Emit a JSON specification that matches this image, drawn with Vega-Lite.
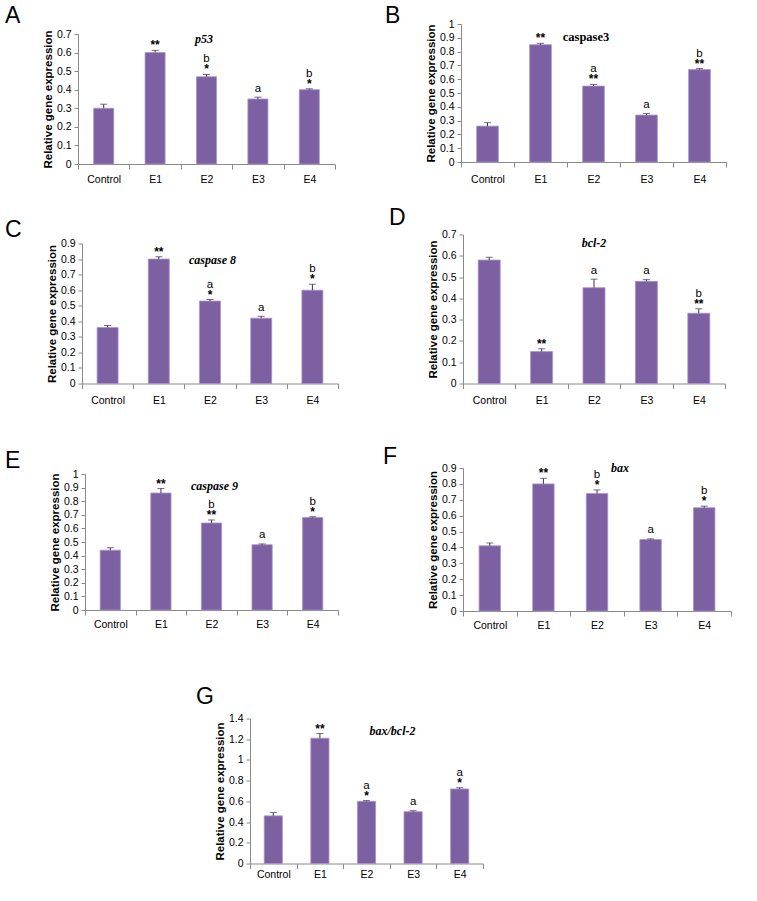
{
  "$schema": "https://vega.github.io/schema/vega-lite/v6.json",
  "background": "white",
  "padding": 5,
  "datasets": {
    "bars": [
      {"panel": "A", "gene": "p53", "group": "Control", "value": 0.30, "hi": 0.322, "sig": "", "let": ""},
      {"panel": "A", "gene": "p53", "group": "E1", "value": 0.60, "hi": 0.612, "sig": "**", "let": ""},
      {"panel": "A", "gene": "p53", "group": "E2", "value": 0.47, "hi": 0.482, "sig": "*", "let": "b"},
      {"panel": "A", "gene": "p53", "group": "E3", "value": 0.35, "hi": 0.36, "sig": "", "let": "a"},
      {"panel": "A", "gene": "p53", "group": "E4", "value": 0.40, "hi": 0.405, "sig": "*", "let": "b"},
      {"panel": "B", "gene": "caspase3", "group": "Control", "value": 0.26, "hi": 0.285, "sig": "", "let": ""},
      {"panel": "B", "gene": "caspase3", "group": "E1", "value": 0.85, "hi": 0.86, "sig": "**", "let": ""},
      {"panel": "B", "gene": "caspase3", "group": "E2", "value": 0.55, "hi": 0.562, "sig": "**", "let": "a"},
      {"panel": "B", "gene": "caspase3", "group": "E3", "value": 0.34, "hi": 0.352, "sig": "", "let": "a"},
      {"panel": "B", "gene": "caspase3", "group": "E4", "value": 0.67, "hi": 0.677, "sig": "**", "let": "b"},
      {"panel": "C", "gene": "caspase 8", "group": "Control", "value": 0.36, "hi": 0.373, "sig": "", "let": ""},
      {"panel": "C", "gene": "caspase 8", "group": "E1", "value": 0.80, "hi": 0.815, "sig": "**", "let": ""},
      {"panel": "C", "gene": "caspase 8", "group": "E2", "value": 0.53, "hi": 0.54, "sig": "*", "let": "a"},
      {"panel": "C", "gene": "caspase 8", "group": "E3", "value": 0.42, "hi": 0.432, "sig": "", "let": "a"},
      {"panel": "C", "gene": "caspase 8", "group": "E4", "value": 0.60, "hi": 0.638, "sig": "*", "let": "b"},
      {"panel": "D", "gene": "bcl-2", "group": "Control", "value": 0.58, "hi": 0.593, "sig": "", "let": ""},
      {"panel": "D", "gene": "bcl-2", "group": "E1", "value": 0.15, "hi": 0.163, "sig": "**", "let": ""},
      {"panel": "D", "gene": "bcl-2", "group": "E2", "value": 0.45, "hi": 0.49, "sig": "", "let": "a"},
      {"panel": "D", "gene": "bcl-2", "group": "E3", "value": 0.48, "hi": 0.488, "sig": "", "let": "a"},
      {"panel": "D", "gene": "bcl-2", "group": "E4", "value": 0.33, "hi": 0.351, "sig": "**", "let": "b"},
      {"panel": "E", "gene": "caspase 9", "group": "Control", "value": 0.44, "hi": 0.458, "sig": "", "let": ""},
      {"panel": "E", "gene": "caspase 9", "group": "E1", "value": 0.86, "hi": 0.893, "sig": "**", "let": ""},
      {"panel": "E", "gene": "caspase 9", "group": "E2", "value": 0.64, "hi": 0.662, "sig": "**", "let": "b"},
      {"panel": "E", "gene": "caspase 9", "group": "E3", "value": 0.48, "hi": 0.486, "sig": "", "let": "a"},
      {"panel": "E", "gene": "caspase 9", "group": "E4", "value": 0.68, "hi": 0.686, "sig": "*", "let": "b"},
      {"panel": "F", "gene": "bax", "group": "Control", "value": 0.41, "hi": 0.428, "sig": "", "let": ""},
      {"panel": "F", "gene": "bax", "group": "E1", "value": 0.80, "hi": 0.835, "sig": "**", "let": ""},
      {"panel": "F", "gene": "bax", "group": "E2", "value": 0.74, "hi": 0.762, "sig": "*", "let": "b"},
      {"panel": "F", "gene": "bax", "group": "E3", "value": 0.45, "hi": 0.454, "sig": "", "let": "a"},
      {"panel": "F", "gene": "bax", "group": "E4", "value": 0.65, "hi": 0.66, "sig": "*", "let": "b"},
      {"panel": "G", "gene": "bax/bcl-2", "group": "Control", "value": 0.46, "hi": 0.492, "sig": "", "let": ""},
      {"panel": "G", "gene": "bax/bcl-2", "group": "E1", "value": 1.21, "hi": 1.255, "sig": "**", "let": ""},
      {"panel": "G", "gene": "bax/bcl-2", "group": "E2", "value": 0.60, "hi": 0.607, "sig": "*", "let": "a"},
      {"panel": "G", "gene": "bax/bcl-2", "group": "E3", "value": 0.50, "hi": 0.51, "sig": "", "let": "a"},
      {"panel": "G", "gene": "bax/bcl-2", "group": "E4", "value": 0.72, "hi": 0.732, "sig": "*", "let": "a"}
    ]
  },
  "vconcat": [
    {
      "hconcat": [
        {
          "width": 257, "height": 159,
          "title": {"text": "A", "offset": -23, "dx": -73},
          "data": {"name": "bars"},
          "transform": [{"filter": "datum.panel == 'A'"}],
          "encoding": {"x": {"field": "group", "type": "nominal", "sort": null, "title": null, "scale": {"paddingInner": 0, "paddingOuter": 0, "range": [0, 257]}, "axis": {"labelPadding": 5}}},
          "layer": [
            {"mark": {"type": "bar", "width": {"band": 0.39}, "fill": "#7D60A2", "stroke": "#A796C4", "strokeWidth": 0.8},
             "encoding": {"y": {"field": "value", "type": "quantitative", "title": "Relative gene expression", "scale": {"domain": [0, 0.7], "nice": false, "range": [159, 29]}, "axis": {"values": [0, 0.1, 0.2, 0.3, 0.4, 0.5, 0.6, 0.7], "format": "~g", "labelOverlap": false, "offset": 0}}}},
            {"mark": {"type": "rule", "color": "#3d3050", "strokeWidth": 1}, "encoding": {"y": {"field": "value", "type": "quantitative", "title": "Relative gene expression", "axis": {"values": [0, 0.1, 0.2, 0.3, 0.4, 0.5, 0.6, 0.7], "format": "~g", "labelOverlap": false, "offset": 0}}, "y2": {"field": "hi"}}},
            {"mark": {"type": "tick", "color": "#3d3050", "thickness": 1, "size": 7}, "encoding": {"y": {"field": "hi", "type": "quantitative", "title": "Relative gene expression", "axis": {"values": [0, 0.1, 0.2, 0.3, 0.4, 0.5, 0.6, 0.7], "format": "~g", "labelOverlap": false, "offset": 0}}}},
            {"mark": {"type": "text", "baseline": "bottom", "dy": 2, "fontSize": 12, "fontWeight": "bold"}, "encoding": {"y": {"field": "hi", "type": "quantitative", "title": "Relative gene expression", "axis": {"values": [0, 0.1, 0.2, 0.3, 0.4, 0.5, 0.6, 0.7], "format": "~g", "labelOverlap": false, "offset": 0}}, "text": {"field": "sig"}}},
            {"transform": [{"filter": "datum.sig != ''"}], "mark": {"type": "text", "baseline": "bottom", "dy": -10, "fontSize": 11.5}, "encoding": {"y": {"field": "hi", "type": "quantitative", "title": "Relative gene expression", "axis": {"values": [0, 0.1, 0.2, 0.3, 0.4, 0.5, 0.6, 0.7], "format": "~g", "labelOverlap": false, "offset": 0}}, "text": {"field": "let"}}},
            {"transform": [{"filter": "datum.sig == ''"}], "mark": {"type": "text", "baseline": "bottom", "dy": -3.5, "fontSize": 11.5}, "encoding": {"y": {"field": "hi", "type": "quantitative", "title": "Relative gene expression", "axis": {"values": [0, 0.1, 0.2, 0.3, 0.4, 0.5, 0.6, 0.7], "format": "~g", "labelOverlap": false, "offset": 0}}, "text": {"field": "let"}}},
            {"transform": [{"filter": "datum.group == 'E2'"}], "mark": {"type": "text", "baseline": "middle", "font": "Liberation Serif", "fontStyle": "italic", "fontWeight": "bold", "fontSize": 12, "dx": -2.5}, "encoding": {"y": {"datum": 0.673, "type": "quantitative", "title": "Relative gene expression", "axis": {"values": [0, 0.1, 0.2, 0.3, 0.4, 0.5, 0.6, 0.7], "format": "~g", "labelOverlap": false, "offset": 0}}, "text": {"field": "gene"}}}
          ]
        },
        {
          "width": 265, "height": 157,
          "title": {"text": "B", "offset": -23, "dx": -76},
          "data": {"name": "bars"},
          "transform": [{"filter": "datum.panel == 'B'"}],
          "encoding": {"x": {"field": "group", "type": "nominal", "sort": null, "title": null, "scale": {"paddingInner": 0, "paddingOuter": 0, "range": [0, 265]}, "axis": {"labelPadding": 7}}},
          "layer": [
            {"mark": {"type": "bar", "width": {"band": 0.41}, "fill": "#7D60A2", "stroke": "#A796C4", "strokeWidth": 0.8},
             "encoding": {"y": {"field": "value", "type": "quantitative", "title": "Relative gene expression", "scale": {"domain": [0, 1], "nice": false, "range": [157, 19]}, "axis": {"values": [0, 0.1, 0.2, 0.3, 0.4, 0.5, 0.6, 0.7, 0.8, 0.9, 1], "format": "~g", "labelOverlap": false, "offset": 0}}}},
            {"mark": {"type": "rule", "color": "#3d3050", "strokeWidth": 1}, "encoding": {"y": {"field": "value", "type": "quantitative", "title": "Relative gene expression", "axis": {"values": [0, 0.1, 0.2, 0.3, 0.4, 0.5, 0.6, 0.7, 0.8, 0.9, 1], "format": "~g", "labelOverlap": false, "offset": 0}}, "y2": {"field": "hi"}}},
            {"mark": {"type": "tick", "color": "#3d3050", "thickness": 1, "size": 7}, "encoding": {"y": {"field": "hi", "type": "quantitative", "title": "Relative gene expression", "axis": {"values": [0, 0.1, 0.2, 0.3, 0.4, 0.5, 0.6, 0.7, 0.8, 0.9, 1], "format": "~g", "labelOverlap": false, "offset": 0}}}},
            {"mark": {"type": "text", "baseline": "bottom", "dy": 2, "fontSize": 12, "fontWeight": "bold"}, "encoding": {"y": {"field": "hi", "type": "quantitative", "title": "Relative gene expression", "axis": {"values": [0, 0.1, 0.2, 0.3, 0.4, 0.5, 0.6, 0.7, 0.8, 0.9, 1], "format": "~g", "labelOverlap": false, "offset": 0}}, "text": {"field": "sig"}}},
            {"transform": [{"filter": "datum.sig != ''"}], "mark": {"type": "text", "baseline": "bottom", "dy": -10, "fontSize": 11.5}, "encoding": {"y": {"field": "hi", "type": "quantitative", "title": "Relative gene expression", "axis": {"values": [0, 0.1, 0.2, 0.3, 0.4, 0.5, 0.6, 0.7, 0.8, 0.9, 1], "format": "~g", "labelOverlap": false, "offset": 0}}, "text": {"field": "let"}}},
            {"transform": [{"filter": "datum.sig == ''"}], "mark": {"type": "text", "baseline": "bottom", "dy": -3.5, "fontSize": 11.5}, "encoding": {"y": {"field": "hi", "type": "quantitative", "title": "Relative gene expression", "axis": {"values": [0, 0.1, 0.2, 0.3, 0.4, 0.5, 0.6, 0.7, 0.8, 0.9, 1], "format": "~g", "labelOverlap": false, "offset": 0}}, "text": {"field": "let"}}},
            {"transform": [{"filter": "datum.group == 'E2'"}], "mark": {"type": "text", "baseline": "middle", "font": "Liberation Serif", "fontWeight": "bold", "fontSize": 12.5, "dx": -7.5}, "encoding": {"y": {"datum": 0.906, "type": "quantitative", "title": "Relative gene expression", "axis": {"values": [0, 0.1, 0.2, 0.3, 0.4, 0.5, 0.6, 0.7, 0.8, 0.9, 1], "format": "~g", "labelOverlap": false, "offset": 0}}, "text": {"field": "gene"}}}
          ]
        }
      ],
      "spacing": 126, "bounds": "flush", "align": "none"
    },
    {
      "hconcat": [
        {
          "width": 260, "height": 177,
          "title": {"text": "C", "offset": -35, "dx": -73},
          "data": {"name": "bars"},
          "transform": [{"filter": "datum.panel == 'C'"}],
          "encoding": {"x": {"field": "group", "type": "nominal", "sort": null, "title": null, "scale": {"paddingInner": 0, "paddingOuter": 0, "range": [4, 260]}, "axis": {"labelPadding": 7}}},
          "layer": [
            {"mark": {"type": "bar", "width": {"band": 0.41}, "fill": "#7D60A2", "stroke": "#A796C4", "strokeWidth": 0.8},
             "encoding": {"y": {"field": "value", "type": "quantitative", "title": "Relative gene expression", "scale": {"domain": [0, 0.9], "nice": false, "range": [177, 37]}, "axis": {"values": [0, 0.1, 0.2, 0.3, 0.4, 0.5, 0.6, 0.7, 0.8, 0.9], "format": "~g", "labelOverlap": false, "offset": -4}}}},
            {"mark": {"type": "rule", "color": "#3d3050", "strokeWidth": 1}, "encoding": {"y": {"field": "value", "type": "quantitative", "title": "Relative gene expression", "axis": {"values": [0, 0.1, 0.2, 0.3, 0.4, 0.5, 0.6, 0.7, 0.8, 0.9], "format": "~g", "labelOverlap": false, "offset": -4}}, "y2": {"field": "hi"}}},
            {"mark": {"type": "tick", "color": "#3d3050", "thickness": 1, "size": 7}, "encoding": {"y": {"field": "hi", "type": "quantitative", "title": "Relative gene expression", "axis": {"values": [0, 0.1, 0.2, 0.3, 0.4, 0.5, 0.6, 0.7, 0.8, 0.9], "format": "~g", "labelOverlap": false, "offset": -4}}}},
            {"mark": {"type": "text", "baseline": "bottom", "dy": 2, "fontSize": 12, "fontWeight": "bold"}, "encoding": {"y": {"field": "hi", "type": "quantitative", "title": "Relative gene expression", "axis": {"values": [0, 0.1, 0.2, 0.3, 0.4, 0.5, 0.6, 0.7, 0.8, 0.9], "format": "~g", "labelOverlap": false, "offset": -4}}, "text": {"field": "sig"}}},
            {"transform": [{"filter": "datum.sig != ''"}], "mark": {"type": "text", "baseline": "bottom", "dy": -10, "fontSize": 11.5}, "encoding": {"y": {"field": "hi", "type": "quantitative", "title": "Relative gene expression", "axis": {"values": [0, 0.1, 0.2, 0.3, 0.4, 0.5, 0.6, 0.7, 0.8, 0.9], "format": "~g", "labelOverlap": false, "offset": -4}}, "text": {"field": "let"}}},
            {"transform": [{"filter": "datum.sig == ''"}], "mark": {"type": "text", "baseline": "bottom", "dy": -3.5, "fontSize": 11.5}, "encoding": {"y": {"field": "hi", "type": "quantitative", "title": "Relative gene expression", "axis": {"values": [0, 0.1, 0.2, 0.3, 0.4, 0.5, 0.6, 0.7, 0.8, 0.9], "format": "~g", "labelOverlap": false, "offset": -4}}, "text": {"field": "let"}}},
            {"transform": [{"filter": "datum.group == 'E2'"}], "mark": {"type": "text", "baseline": "middle", "font": "Liberation Serif", "fontStyle": "italic", "fontWeight": "bold", "fontSize": 12, "dx": 2.5}, "encoding": {"y": {"datum": 0.797, "type": "quantitative", "title": "Relative gene expression", "axis": {"values": [0, 0.1, 0.2, 0.3, 0.4, 0.5, 0.6, 0.7, 0.8, 0.9], "format": "~g", "labelOverlap": false, "offset": -4}}, "text": {"field": "gene"}}}
          ]
        },
        {
          "width": 262, "height": 177,
          "title": {"text": "D", "offset": -23, "dx": -74},
          "data": {"name": "bars"},
          "transform": [{"filter": "datum.panel == 'D'"}],
          "encoding": {"x": {"field": "group", "type": "nominal", "sort": null, "title": null, "scale": {"paddingInner": 0, "paddingOuter": 0, "range": [0, 262]}, "axis": {"labelPadding": 7}}},
          "layer": [
            {"mark": {"type": "bar", "width": {"band": 0.42}, "fill": "#7D60A2", "stroke": "#A796C4", "strokeWidth": 0.8},
             "encoding": {"y": {"field": "value", "type": "quantitative", "title": "Relative gene expression", "scale": {"domain": [0, 0.7], "nice": false, "range": [177, 28]}, "axis": {"values": [0, 0.1, 0.2, 0.3, 0.4, 0.5, 0.6, 0.7], "format": "~g", "labelOverlap": false, "offset": 0}}}},
            {"mark": {"type": "rule", "color": "#3d3050", "strokeWidth": 1}, "encoding": {"y": {"field": "value", "type": "quantitative", "title": "Relative gene expression", "axis": {"values": [0, 0.1, 0.2, 0.3, 0.4, 0.5, 0.6, 0.7], "format": "~g", "labelOverlap": false, "offset": 0}}, "y2": {"field": "hi"}}},
            {"mark": {"type": "tick", "color": "#3d3050", "thickness": 1, "size": 7}, "encoding": {"y": {"field": "hi", "type": "quantitative", "title": "Relative gene expression", "axis": {"values": [0, 0.1, 0.2, 0.3, 0.4, 0.5, 0.6, 0.7], "format": "~g", "labelOverlap": false, "offset": 0}}}},
            {"mark": {"type": "text", "baseline": "bottom", "dy": 2, "fontSize": 12, "fontWeight": "bold"}, "encoding": {"y": {"field": "hi", "type": "quantitative", "title": "Relative gene expression", "axis": {"values": [0, 0.1, 0.2, 0.3, 0.4, 0.5, 0.6, 0.7], "format": "~g", "labelOverlap": false, "offset": 0}}, "text": {"field": "sig"}}},
            {"transform": [{"filter": "datum.sig != ''"}], "mark": {"type": "text", "baseline": "bottom", "dy": -10, "fontSize": 11.5}, "encoding": {"y": {"field": "hi", "type": "quantitative", "title": "Relative gene expression", "axis": {"values": [0, 0.1, 0.2, 0.3, 0.4, 0.5, 0.6, 0.7], "format": "~g", "labelOverlap": false, "offset": 0}}, "text": {"field": "let"}}},
            {"transform": [{"filter": "datum.sig == ''"}], "mark": {"type": "text", "baseline": "bottom", "dy": -3.5, "fontSize": 11.5}, "encoding": {"y": {"field": "hi", "type": "quantitative", "title": "Relative gene expression", "axis": {"values": [0, 0.1, 0.2, 0.3, 0.4, 0.5, 0.6, 0.7], "format": "~g", "labelOverlap": false, "offset": 0}}, "text": {"field": "let"}}},
            {"transform": [{"filter": "datum.group == 'E2'"}], "mark": {"type": "text", "baseline": "middle", "font": "Liberation Serif", "fontStyle": "italic", "fontWeight": "bold", "fontSize": 12, "dx": 0}, "encoding": {"y": {"datum": 0.658, "type": "quantitative", "title": "Relative gene expression", "axis": {"values": [0, 0.1, 0.2, 0.3, 0.4, 0.5, 0.6, 0.7], "format": "~g", "labelOverlap": false, "offset": 0}}, "text": {"field": "gene"}}}
          ]
        }
      ],
      "spacing": 125, "bounds": "flush", "align": "none"
    },
    {
      "hconcat": [
        {
          "width": 260, "height": 182,
          "title": {"text": "E", "offset": -45, "dx": -73},
          "data": {"name": "bars"},
          "transform": [{"filter": "datum.panel == 'E'"}],
          "encoding": {"x": {"field": "group", "type": "nominal", "sort": null, "title": null, "scale": {"paddingInner": 0, "paddingOuter": 0, "range": [7, 260]}, "axis": {"labelPadding": 4}}},
          "layer": [
            {"mark": {"type": "bar", "width": {"band": 0.4}, "fill": "#7D60A2", "stroke": "#A796C4", "strokeWidth": 0.8},
             "encoding": {"y": {"field": "value", "type": "quantitative", "title": "Relative gene expression", "scale": {"domain": [0, 1], "nice": false, "range": [182, 46]}, "axis": {"values": [0, 0.1, 0.2, 0.3, 0.4, 0.5, 0.6, 0.7, 0.8, 0.9, 1], "format": "~g", "labelOverlap": false, "offset": -7}}}},
            {"mark": {"type": "rule", "color": "#3d3050", "strokeWidth": 1}, "encoding": {"y": {"field": "value", "type": "quantitative", "title": "Relative gene expression", "axis": {"values": [0, 0.1, 0.2, 0.3, 0.4, 0.5, 0.6, 0.7, 0.8, 0.9, 1], "format": "~g", "labelOverlap": false, "offset": -7}}, "y2": {"field": "hi"}}},
            {"mark": {"type": "tick", "color": "#3d3050", "thickness": 1, "size": 7}, "encoding": {"y": {"field": "hi", "type": "quantitative", "title": "Relative gene expression", "axis": {"values": [0, 0.1, 0.2, 0.3, 0.4, 0.5, 0.6, 0.7, 0.8, 0.9, 1], "format": "~g", "labelOverlap": false, "offset": -7}}}},
            {"mark": {"type": "text", "baseline": "bottom", "dy": 2, "fontSize": 12, "fontWeight": "bold"}, "encoding": {"y": {"field": "hi", "type": "quantitative", "title": "Relative gene expression", "axis": {"values": [0, 0.1, 0.2, 0.3, 0.4, 0.5, 0.6, 0.7, 0.8, 0.9, 1], "format": "~g", "labelOverlap": false, "offset": -7}}, "text": {"field": "sig"}}},
            {"transform": [{"filter": "datum.sig != ''"}], "mark": {"type": "text", "baseline": "bottom", "dy": -10, "fontSize": 11.5}, "encoding": {"y": {"field": "hi", "type": "quantitative", "title": "Relative gene expression", "axis": {"values": [0, 0.1, 0.2, 0.3, 0.4, 0.5, 0.6, 0.7, 0.8, 0.9, 1], "format": "~g", "labelOverlap": false, "offset": -7}}, "text": {"field": "let"}}},
            {"transform": [{"filter": "datum.sig == ''"}], "mark": {"type": "text", "baseline": "bottom", "dy": -3.5, "fontSize": 11.5}, "encoding": {"y": {"field": "hi", "type": "quantitative", "title": "Relative gene expression", "axis": {"values": [0, 0.1, 0.2, 0.3, 0.4, 0.5, 0.6, 0.7, 0.8, 0.9, 1], "format": "~g", "labelOverlap": false, "offset": -7}}, "text": {"field": "let"}}},
            {"transform": [{"filter": "datum.group == 'E2'"}], "mark": {"type": "text", "baseline": "middle", "font": "Liberation Serif", "fontStyle": "italic", "fontWeight": "bold", "fontSize": 12, "dx": 3}, "encoding": {"y": {"datum": 0.912, "type": "quantitative", "title": "Relative gene expression", "axis": {"values": [0, 0.1, 0.2, 0.3, 0.4, 0.5, 0.6, 0.7, 0.8, 0.9, 1], "format": "~g", "labelOverlap": false, "offset": -7}}, "text": {"field": "gene"}}}
          ]
        },
        {
          "width": 268, "height": 183,
          "title": {"text": "F", "offset": -41, "dx": -80},
          "data": {"name": "bars"},
          "transform": [{"filter": "datum.panel == 'F'"}],
          "encoding": {"x": {"field": "group", "type": "nominal", "sort": null, "title": null, "scale": {"paddingInner": 0, "paddingOuter": 0, "range": [0, 268]}, "axis": {"labelPadding": 4}}},
          "layer": [
            {"mark": {"type": "bar", "width": {"band": 0.4}, "fill": "#7D60A2", "stroke": "#A796C4", "strokeWidth": 0.8},
             "encoding": {"y": {"field": "value", "type": "quantitative", "title": "Relative gene expression", "scale": {"domain": [0, 0.9], "nice": false, "range": [183, 40]}, "axis": {"values": [0, 0.1, 0.2, 0.3, 0.4, 0.5, 0.6, 0.7, 0.8, 0.9], "format": "~g", "labelOverlap": false, "offset": 0}}}},
            {"mark": {"type": "rule", "color": "#3d3050", "strokeWidth": 1}, "encoding": {"y": {"field": "value", "type": "quantitative", "title": "Relative gene expression", "axis": {"values": [0, 0.1, 0.2, 0.3, 0.4, 0.5, 0.6, 0.7, 0.8, 0.9], "format": "~g", "labelOverlap": false, "offset": 0}}, "y2": {"field": "hi"}}},
            {"mark": {"type": "tick", "color": "#3d3050", "thickness": 1, "size": 7}, "encoding": {"y": {"field": "hi", "type": "quantitative", "title": "Relative gene expression", "axis": {"values": [0, 0.1, 0.2, 0.3, 0.4, 0.5, 0.6, 0.7, 0.8, 0.9], "format": "~g", "labelOverlap": false, "offset": 0}}}},
            {"mark": {"type": "text", "baseline": "bottom", "dy": 2, "fontSize": 12, "fontWeight": "bold"}, "encoding": {"y": {"field": "hi", "type": "quantitative", "title": "Relative gene expression", "axis": {"values": [0, 0.1, 0.2, 0.3, 0.4, 0.5, 0.6, 0.7, 0.8, 0.9], "format": "~g", "labelOverlap": false, "offset": 0}}, "text": {"field": "sig"}}},
            {"transform": [{"filter": "datum.sig != ''"}], "mark": {"type": "text", "baseline": "bottom", "dy": -10, "fontSize": 11.5}, "encoding": {"y": {"field": "hi", "type": "quantitative", "title": "Relative gene expression", "axis": {"values": [0, 0.1, 0.2, 0.3, 0.4, 0.5, 0.6, 0.7, 0.8, 0.9], "format": "~g", "labelOverlap": false, "offset": 0}}, "text": {"field": "let"}}},
            {"transform": [{"filter": "datum.sig == ''"}], "mark": {"type": "text", "baseline": "bottom", "dy": -3.5, "fontSize": 11.5}, "encoding": {"y": {"field": "hi", "type": "quantitative", "title": "Relative gene expression", "axis": {"values": [0, 0.1, 0.2, 0.3, 0.4, 0.5, 0.6, 0.7, 0.8, 0.9], "format": "~g", "labelOverlap": false, "offset": 0}}, "text": {"field": "let"}}},
            {"transform": [{"filter": "datum.group == 'E2'"}], "mark": {"type": "text", "baseline": "middle", "font": "Liberation Serif", "fontStyle": "italic", "fontWeight": "bold", "fontSize": 12, "dx": 23}, "encoding": {"y": {"datum": 0.898, "type": "quantitative", "title": "Relative gene expression", "axis": {"values": [0, 0.1, 0.2, 0.3, 0.4, 0.5, 0.6, 0.7, 0.8, 0.9], "format": "~g", "labelOverlap": false, "offset": 0}}, "text": {"field": "gene"}}}
          ]
        }
      ],
      "spacing": 125, "bounds": "flush", "align": "none"
    },
    {
      "width": 405, "height": 211,
      "title": {"text": "G", "offset": -56, "dx": 118},
      "data": {"name": "bars"},
      "transform": [{"filter": "datum.panel == 'G'"}],
      "encoding": {"x": {"field": "group", "type": "nominal", "sort": null, "title": null, "scale": {"paddingInner": 0, "paddingOuter": 0, "range": [172, 405]}, "axis": {"labelPadding": 1}}},
      "layer": [
        {"mark": {"type": "bar", "width": {"band": 0.39}, "fill": "#7D60A2", "stroke": "#A796C4", "strokeWidth": 0.8},
         "encoding": {"y": {"field": "value", "type": "quantitative", "title": "Relative gene expression", "scale": {"domain": [0, 1.4], "nice": false, "range": [211, 66]}, "axis": {"values": [0, 0.2, 0.4, 0.6, 0.8, 1, 1.2, 1.4], "format": "~g", "labelOverlap": false, "offset": -172}}}},
        {"mark": {"type": "rule", "color": "#3d3050", "strokeWidth": 1}, "encoding": {"y": {"field": "value", "type": "quantitative", "title": "Relative gene expression", "axis": {"values": [0, 0.2, 0.4, 0.6, 0.8, 1, 1.2, 1.4], "format": "~g", "labelOverlap": false, "offset": -172}}, "y2": {"field": "hi"}}},
        {"mark": {"type": "tick", "color": "#3d3050", "thickness": 1, "size": 7}, "encoding": {"y": {"field": "hi", "type": "quantitative", "title": "Relative gene expression", "axis": {"values": [0, 0.2, 0.4, 0.6, 0.8, 1, 1.2, 1.4], "format": "~g", "labelOverlap": false, "offset": -172}}}},
        {"mark": {"type": "text", "baseline": "bottom", "dy": 2, "fontSize": 12, "fontWeight": "bold"}, "encoding": {"y": {"field": "hi", "type": "quantitative", "title": "Relative gene expression", "axis": {"values": [0, 0.2, 0.4, 0.6, 0.8, 1, 1.2, 1.4], "format": "~g", "labelOverlap": false, "offset": -172}}, "text": {"field": "sig"}}},
        {"transform": [{"filter": "datum.sig != ''"}], "mark": {"type": "text", "baseline": "bottom", "dy": -10, "fontSize": 11.5}, "encoding": {"y": {"field": "hi", "type": "quantitative", "title": "Relative gene expression", "axis": {"values": [0, 0.2, 0.4, 0.6, 0.8, 1, 1.2, 1.4], "format": "~g", "labelOverlap": false, "offset": -172}}, "text": {"field": "let"}}},
        {"transform": [{"filter": "datum.sig == ''"}], "mark": {"type": "text", "baseline": "bottom", "dy": -3.5, "fontSize": 11.5}, "encoding": {"y": {"field": "hi", "type": "quantitative", "title": "Relative gene expression", "axis": {"values": [0, 0.2, 0.4, 0.6, 0.8, 1, 1.2, 1.4], "format": "~g", "labelOverlap": false, "offset": -172}}, "text": {"field": "let"}}},
        {"transform": [{"filter": "datum.group == 'E2'"}], "mark": {"type": "text", "baseline": "middle", "font": "Liberation Serif", "fontStyle": "italic", "fontWeight": "bold", "fontSize": 12, "dx": 26}, "encoding": {"y": {"datum": 1.284, "type": "quantitative", "title": "Relative gene expression", "axis": {"values": [0, 0.2, 0.4, 0.6, 0.8, 1, 1.2, 1.4], "format": "~g", "labelOverlap": false, "offset": -172}}, "text": {"field": "gene"}}}
      ]
    }
  ],
  "spacing": 21.5,
  "align": "none",
  "config": {
    "font": "Liberation Sans",
    "view": {"stroke": null},
    "axis": {"domainColor": "#8a8a8a", "tickColor": "#8a8a8a", "labelColor": "#000000", "labelFont": "Liberation Sans", "labelFontSize": 10.5, "titleFont": "Liberation Sans", "titleFontSize": 11.5, "titleFontWeight": "bold", "titleColor": "#000000", "grid": false},
    "axisX": {"tickBand": "extent", "labelAngle": 0, "tickSize": 5},
    "axisY": {"tickSize": 4, "labelPadding": 3, "titlePadding": 3},
    "title": {"fontSize": 23, "font": "Liberation Sans", "fontWeight": "normal", "anchor": "start", "frame": "group", "baseline": "bottom", "color": "#000000"},
    "text": {"font": "Liberation Sans", "color": "#000000"}
  }
}
